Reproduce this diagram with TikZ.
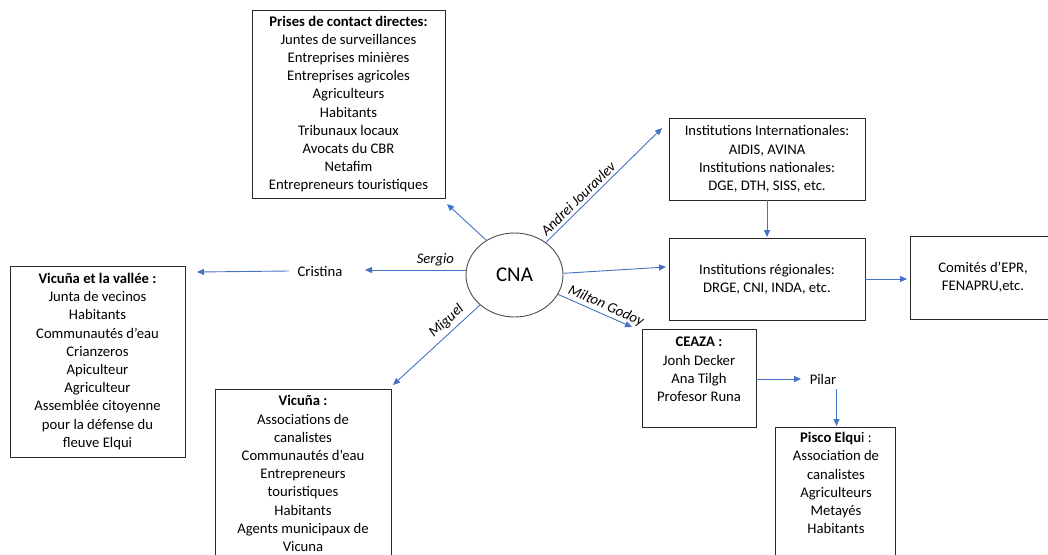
\documentclass[tikz,border=0pt]{standalone}
\usepackage{fontspec}
\setmainfont{Carlito}
\usetikzlibrary{arrows.meta,shapes.geometric}
\definecolor{arrowblue}{RGB}{68,114,196}
\definecolor{boxline}{RGB}{40,40,40}
\begin{document}
\begin{tikzpicture}[x=1pt,y=-1pt,
  txt/.style={font=\fontsize{14.67}{18.2}\selectfont, align=center, inner sep=0pt},
  box/.style={draw=boxline, line width=0.9pt, inner sep=0pt},
  arr/.style={draw=arrowblue, line width=0.9pt, -{Triangle[length=7pt,width=6pt]}},
  lbl/.style={font=\fontsize{14.67}{18}\selectfont\itshape, inner sep=1pt, text=black}]
\useasboundingbox (0,0) rectangle (1048,554);

% centre
\node[ellipse, draw=black!70, line width=0.9pt, minimum width=97, minimum height=84,
      font=\fontsize{21}{24}\selectfont, inner sep=0pt] (cna) at (514.5,275) {CNA};

% boxes
\node[box, txt, minimum width=193, minimum height=188] (direct) at (348.5,104)
  {\textbf{Prises de contact directes:}\\Juntes de surveillances\\Entreprises minières\\Entreprises agricoles\\Agriculteurs\\Habitants\\Tribunaux locaux\\Avocats du CBR\\Netafim\\Entrepreneurs touristiques};

\node[box, txt, minimum width=175, minimum height=191] (vallee) at (97.5,361.5)
  {\textbf{Vicuña et la vallée :}\\Junta de vecinos\\Habitants\\Communautés d’eau\\Crianzeros\\Apiculteur\\Agriculteur\\Assemblée citoyenne\\pour la défense du\\fleuve Elqui};

\node[box, txt, minimum width=176, minimum height=169] (vicuna) at (303,473.5)
  {\textbf{Vicuña :}\\Associations de\\canalistes\\Communautés d’eau\\Entrepreneurs\\touristiques\\Habitants\\Agents municipaux de\\Vicuna};

\node[box, txt, minimum width=196, minimum height=82] (intl) at (767,159)
  {Institutions Internationales:\\AIDIS, AVINA\\Institutions nationales:\\DGE, DTH, SISS, etc.};

\node[box, txt, minimum width=196, minimum height=82] (reg) at (767,279)
  {Institutions régionales:\\DRGE, CNI, INDA, etc.};

\node[box, txt, minimum width=146, minimum height=83] (epr) at (983,277.5)
  {Comités d’EPR,\\FENAPRU,etc.};

\node[box, minimum width=114, minimum height=98] (ceaza) at (699,378) {};
\node[txt] (ceazatxt) at (699,369.5)
  {\textbf{CEAZA :}\\Jonh Decker\\Ana Tilgh\\Profesor Runa};

\node[box, minimum width=120, minimum height=150] (pisco) at (835,502) {};
\node[txt] (piscotxt) at (836,483)
  {\textbf{Pisco Elqu}i :\\Association de\\canalistes\\Agriculteurs\\Metayés\\Habitants};

% plain text nodes
\node[txt] (cristina) at (320,271) {Cristina};
\node[txt] (pilar) at (823,379) {Pilar};

% connector ends
\coordinate (eDirect) at (447,204);
\coordinate (eIntl) at (662,128);
\coordinate (eCristina) at (365,270);
\coordinate (sCristina) at (289,271);
\coordinate (eVallee) at (197,272);
\coordinate (eVicuna) at (393,385);
\coordinate (eReg) at (666,267);
\coordinate (eCeaza) at (632,327);
\coordinate (sIntl) at (767,200);
\coordinate (eRegTop) at (767,237);
\coordinate (sReg) at (865,279);
\coordinate (eEpr) at (907,279);
\coordinate (sCeaza) at (756,379);
\coordinate (ePilar) at (801,379);
\coordinate (sPilar) at (836.5,389);
\coordinate (ePisco) at (836.5,426);

% connectors
\draw[arr] (cna.129) -- (eDirect);
\draw[arr] (cna.46) -- node[lbl, pos=0.33, sloped, above=2pt] {Andrei Jouravlev} (eIntl);
\draw[arr] (cna.west |- eCristina) -- node[lbl, pos=0.3, above=3pt] {Sergio} (eCristina);
\draw[arr] (sCristina) -- (eVallee);
\draw[arr] (cna.221) -- node[lbl, pos=0.3, sloped, above=3pt] {Miguel} (eVicuna);
\draw[arr] (cna.2) -- (eReg);
\draw[arr] (cna.336) -- node[lbl, pos=0.6, sloped, above=1pt] {Milton Godoy} (eCeaza);
\draw[arr] (sIntl) -- (eRegTop);
\draw[arr] (sReg) -- (eEpr);
\draw[arr] (sCeaza) -- (ePilar);
\draw[arr] (sPilar) -- (ePisco);
\end{tikzpicture}
\end{document}
